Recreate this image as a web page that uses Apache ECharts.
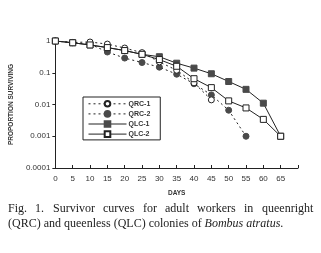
<!DOCTYPE html>
<html><head><meta charset="utf-8">
<script src="https://cdn.jsdelivr.net/npm/echarts@6/dist/echarts.min.js"></script>
<style>html,body{margin:0;padding:0;background:#fff}#c{width:321px;height:253px}</style>
</head><body><div id="c"></div>
<script>
const days = [0,5,10,15,20,25,30,35,40,45,50,55,60,65];
const xTickLabels = ['0','5','10','15','20','25','30','35','40','45','50','55','60','65'];
const yTickLabels = ['0.0001','0.001','0.01','0.1','1'];
const qrc1 = [1,0.9,0.93,0.8,0.6,0.43,0.22,0.12,0.048,0.014];
const qrc2 = [1,0.88,0.8,0.45,0.29,0.21,0.15,0.09,0.045,0.02,0.0066,0.001];
const qlc1 = [1,0.88,0.75,0.62,0.5,0.38,0.32,0.2,0.14,0.093,0.053,0.03,0.011,0.001];
const qlc2 = [1,0.88,0.75,0.62,0.5,0.38,0.26,0.16,0.065,0.034,0.013,0.0078,0.0034,0.001];
const names = ['QRC-1','QRC-2','QLC-1','QLC-2'];
const caption1 = 'Fig. 1. Survivor curves for adult workers in queenright';

function pairs(vals){ return vals.map((v,i)=>[days[i],v]); }
const ink = '#222';
const fillDark = '#4a4a4a';
function ser(name, vals, symbol, filled, dashed, size){
  return {
    name, type:'line', data:pairs(vals), symbol, symbolSize:size,
    showAllSymbol:true,
    lineStyle:{color:ink,width:1,type:dashed?[2,3]:'solid'},
    itemStyle:{color:filled?fillDark:'#fff',borderColor:filled?fillDark:ink,borderWidth:1},
    emphasis:{disabled:true}, animation:false, z: filled?3:4
  };
}
// justify first caption line across the text block width
const capFont = '12px "Liberation Serif"';
const ctx = document.createElement('canvas').getContext('2d');
ctx.font = capFont;
const words = caption1.split(' ');
const capLeft = 8, capRight = 313;
const wsum = words.reduce((s,w)=>s+ctx.measureText(w).width,0);
const gap = (capRight-capLeft-wsum)/(words.length-1);
let cx = capLeft;
const capGraphics = words.map(w=>{
  const g={type:'text',left:Math.round(cx),top:203,style:{text:w,font:capFont,fill:'#222'}};
  cx += ctx.measureText(w).width + gap; return g;
});
capGraphics.push({type:'text',left:8,top:218,style:{
  rich:{i:{font:'italic 12px "Liberation Serif"',fill:'#222'},n:{font:capFont,fill:'#222'}},
  text:'{n|(QRC) and queenless (QLC) colonies of }{i|Bombus atratus}{n|.}'}});

const chart = echarts.init(document.getElementById('c'),null,{renderer:'canvas'});
chart.setOption({
  animation:false,
  backgroundColor:'#fff',
  grid:{left:50,right:23,top:41,bottom:85,containLabel:false},
  xAxis:{type:'value',min:0,max:70,interval:5,
    axisLine:{lineStyle:{color:ink,width:1}},
    axisTick:{inside:true,length:3,lineStyle:{color:ink}},
    axisLabel:{color:'#333',fontSize:8,fontFamily:'Liberation Sans',margin:7,
      formatter:v=>{const i=days.indexOf(v);return i>=0?xTickLabels[i]:'';}},
    splitLine:{show:false},
    name:'DAYS',nameLocation:'middle',nameGap:22,
    nameTextStyle:{fontSize:6.5,fontWeight:'bold',color:'#333',fontFamily:'Liberation Sans'}
  },
  yAxis:{type:'log',logBase:10,min:0.0001,max:1,
    axisLine:{show:true,lineStyle:{color:ink,width:1}},
    axisTick:{show:true,length:3,lineStyle:{color:ink}},
    axisLabel:{color:'#333',fontSize:8,fontFamily:'Liberation Sans',margin:5,
      formatter:v=>{const k=Math.round(Math.log10(v))+4;return yTickLabels[k]||'';}},
    splitLine:{show:false},
    name:'PROPORTION SURVIVING',nameLocation:'middle',nameGap:31,nameRotate:90,
    nameTextStyle:{fontSize:6.5,fontWeight:'bold',color:'#333',fontFamily:'Liberation Sans'}
  },
  legend:{orient:'vertical',left:83,top:97,
    data:names,
    itemWidth:38,itemHeight:7,itemGap:2.5,
    padding:[3,10,2,5],
    borderColor:ink,borderWidth:1,
    lineStyle:{width:1},
    textStyle:{fontSize:7,fontWeight:'bold',color:'#333',fontFamily:'Liberation Sans',padding:[0,0,0,-3]}
  },
  graphic:capGraphics,
  series:[
    ser(names[0],qrc1,'circle',false,true,6),
    ser(names[1],qrc2,'circle',true,true,6),
    ser(names[2],qlc1,'rect',true,false,6),
    ser(names[3],qlc2,'rect',false,false,6)
  ]
});
</script></body></html>
